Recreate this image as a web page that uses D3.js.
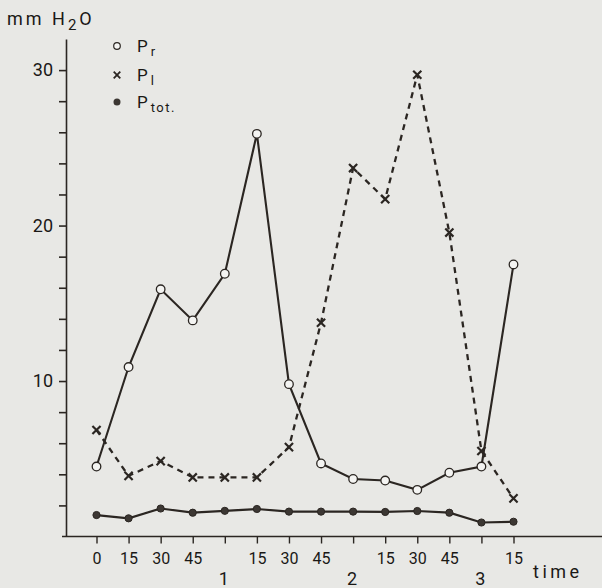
<!DOCTYPE html>
<html>
<head>
<meta charset="utf-8">
<script src="https://cdn.jsdelivr.net/npm/d3@7"></script>
<style>
  body { margin: 0; background: #e8e8e5; }
  svg { display: block; }
  text { font-family: Roboto, "DejaVu Sans", sans-serif; fill: #1a1816; }
</style>
</head>
<body>
<div id="chart"></div>
<script>
// chart values
const times = [0, 15, 30, 45, 60, 75, 90, 105, 120, 135, 150, 165, 180, 195];
const minuteLabels = ['0', '15', '30', '45', '', '15', '30', '45', '', '15', '30', '45', '', '15'];
const hourTimes = [60, 120, 180];
const hourLabels = ['1', '2', '3'];
const pR = [4.5, 10.9, 15.9, 13.9, 16.9, 25.9, 9.8, 4.7, 3.7, 3.6, 3.0, 4.1, 4.5, 17.5];
const pL = [6.85, 3.9, 4.85, 3.8, 3.8, 3.8, 5.75, 13.75, 23.7, 21.7, 29.7, 19.55, 5.5, 2.45];
const pTot = [1.38, 1.17, 1.8, 1.53, 1.65, 1.77, 1.6, 1.6, 1.6, 1.58, 1.64, 1.53, 0.9, 0.95];
const yTicks = [2, 4, 6, 8, 10, 12, 14, 16, 18, 20, 22, 24, 26, 28, 30];
const legendMain = ['P', 'P', 'P'];
const legendSub = ['r', 'l', 'tot.'];

// graphic dimensions
const width = 602;
const height = 588;
const axisX = 66;
const ink = '#2b2622';

const svg = d3.select('#chart')
    .append('svg')
    .attr('width', width)
    .attr('height', height);

// scales
const x = d3.scaleLinear().domain([0, 195]).range([96.5, 513.5]);
const y = d3.scaleLinear().domain([0, 32]).range([536.5, 39]);

// y axis with minor ticks every 2
const yAxis = svg.append('g')
    .attr('transform', 'translate(' + axisX + ',0)')
    .call(d3.axisLeft(y)
        .tickValues(yTicks)
        .tickFormat(d => d % 10 === 0 ? d : '')
        .tickSize(7)
        .tickSizeOuter(0)
        .tickPadding(6));
yAxis.selectAll('line, path').attr('stroke', ink).attr('stroke-width', 1.6);
yAxis.selectAll('text').attr('font-size', 18).attr('font-family', 'Roboto, sans-serif').attr('fill', '#1a1816');

// x axis
const xAxis = svg.append('g')
    .attr('transform', 'translate(0,' + y(0) + ')')
    .call(d3.axisBottom(x)
        .tickValues(times)
        .tickFormat((d, i) => minuteLabels[i])
        .tickSize(7)
        .tickSizeOuter(0)
        .tickPadding(9));
xAxis.select('.domain').remove();
xAxis.selectAll('line').attr('stroke', ink).attr('stroke-width', 1.4);
xAxis.selectAll('text').attr('font-size', 16).attr('font-family', 'Roboto, sans-serif').attr('fill', '#1a1816');
xAxis.append('line')
    .attr('x1', axisX - 4)
    .attr('x2', width)
    .attr('y1', 0)
    .attr('y2', 0)
    .attr('stroke', ink)
    .attr('stroke-width', 1.6);

// hour labels under the axis
svg.append('g')
    .selectAll('text')
    .data(hourTimes)
    .join('text')
    .attr('x', d => x(d) - 1)
    .attr('y', 585)
    .attr('text-anchor', 'middle')
    .attr('font-size', 18)
    .text((d, i) => hourLabels[i]);

svg.append('text')
    .attr('x', 533)
    .attr('y', 578)
    .attr('font-size', 18)
    .attr('letter-spacing', 3.5)
    .text('time');

// y axis title mm H2O
const title = svg.append('text')
    .attr('x', 7)
    .attr('y', 25)
    .attr('font-size', 18)
    .attr('letter-spacing', 3);
title.append('tspan').text('mm H');
title.append('tspan').attr('dy', 5).attr('font-size', 15).text('2');
title.append('tspan').attr('dy', -5).text('O');

// lines
const line = d3.line()
    .x((d, i) => x(times[i]))
    .y(d => y(d));

svg.append('path')
    .datum(pTot)
    .attr('fill', 'none')
    .attr('stroke', ink)
    .attr('stroke-width', 2.2)
    .attr('d', line);

svg.append('path')
    .datum(pL)
    .attr('fill', 'none')
    .attr('stroke', ink)
    .attr('stroke-width', 2.3)
    .attr('stroke-dasharray', '6,5')
    .attr('d', line);

svg.append('path')
    .datum(pR)
    .attr('fill', 'none')
    .attr('stroke', ink)
    .attr('stroke-width', 2.1)
    .attr('d', line);

// markers
const cross = d3.symbol().type(d3.symbolX).size(45);

svg.append('g')
    .selectAll('path')
    .data(pL)
    .join('path')
    .attr('transform', (d, i) => 'translate(' + x(times[i]) + ',' + y(d) + ')')
    .attr('d', cross)
    .attr('fill', 'none')
    .attr('stroke', ink)
    .attr('stroke-width', 2.2);

svg.append('g')
    .selectAll('circle')
    .data(pR)
    .join('circle')
    .attr('cx', (d, i) => x(times[i]))
    .attr('cy', d => y(d))
    .attr('r', 4.3)
    .attr('fill', '#f4f4f2')
    .attr('stroke', ink)
    .attr('stroke-width', 1.3);

svg.append('g')
    .selectAll('circle')
    .data(pTot)
    .join('circle')
    .attr('cx', (d, i) => x(times[i]))
    .attr('cy', d => y(d))
    .attr('r', 3.6)
    .attr('fill', '#3c3733')
    .attr('stroke', ink)
    .attr('stroke-width', 1);

// legend
const legendY = [46, 75, 102];
const legend = svg.append('g');

legend.append('circle')
    .attr('cx', 117).attr('cy', legendY[0]).attr('r', 3.3)
    .attr('fill', '#f4f4f2').attr('stroke', ink).attr('stroke-width', 1.2);
legend.append('path')
    .attr('transform', 'translate(117,' + legendY[1] + ')')
    .attr('d', d3.symbol().type(d3.symbolX).size(30))
    .attr('fill', 'none').attr('stroke', ink).attr('stroke-width', 1.8);
legend.append('circle')
    .attr('cx', 117).attr('cy', legendY[2]).attr('r', 3.5)
    .attr('fill', '#3c3733');

legendY.forEach((ly, i) => {
    const t = legend.append('text')
        .attr('x', 137)
        .attr('y', ly + 6)
        .attr('font-size', 17);
    t.append('tspan').text(legendMain[i]);
    t.append('tspan')
        .attr('dx', 3)
        .attr('dy', 4)
        .attr('font-size', 13)
        .attr('letter-spacing', 1.5)
        .text(legendSub[i]);
});
</script>
</body>
</html>
